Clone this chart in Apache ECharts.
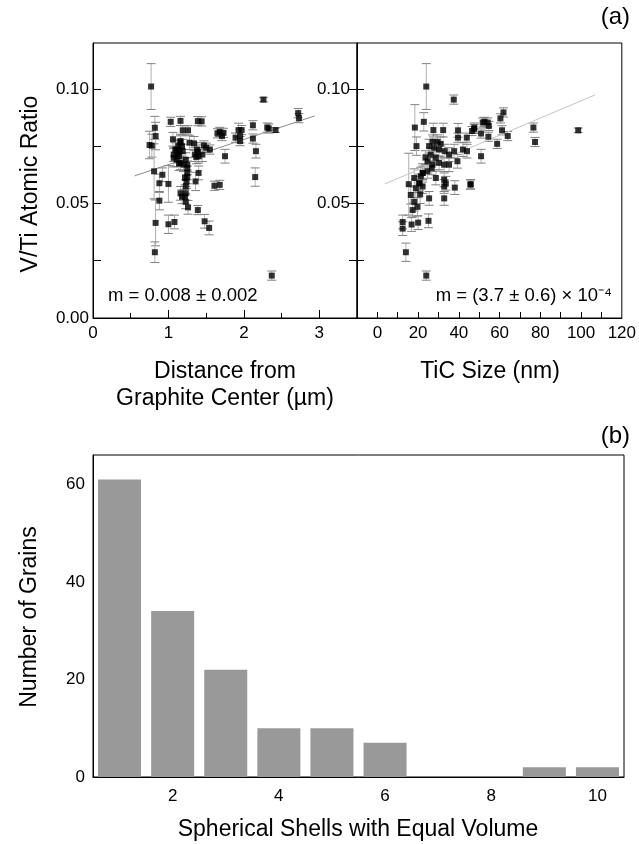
<!DOCTYPE html>
<html>
<head>
<meta charset="utf-8">
<script src="https://cdn.jsdelivr.net/npm/echarts@6/dist/echarts.min.js"></script>
<style>
  html, body { margin: 0; padding: 0; background: #fff; }
  #chart { width: 639px; height: 844px; }
</style>
</head>
<body>
<div id="chart"></div>
<script>
// (a) left: distance from graphite center (µm) vs V/Ti ratio
var distX = [0.77,0.75,0.78,0.82,0.83,0.81,0.88,0.92,0.88,1.00,0.83,0.82,1.00,1.08,1.03,1.16,1.19,1.26,1.39,1.44,
  1.06,1.16,1.28,1.34,1.11,1.07,1.12,1.14,1.20,1.25,1.18,1.15,1.35,1.37,1.39,1.47,1.50,1.55,1.40,1.25,
  1.24,1.23,1.23,1.36,1.16,1.18,1.22,1.23,1.26,1.39,1.48,1.54,1.61,1.68,1.65,1.71,1.68,1.73,1.75,1.89,
  1.95,1.93,1.97,1.95,2.12,2.12,2.16,2.15,2.26,2.31,2.33,2.42,2.72,2.73,2.37,1.38,1.40,1.45,1.19,1.23,
  1.11,1.16,1.25,1.25,1.22,1.09,1.07,1.14,1.13,1.16];
var distY = [0.101,0.0755,0.0752,0.083,0.0794,0.064,0.0588,0.0625,0.0512,0.0585,0.0415,0.0287,0.0409,0.0419,0.0856,0.086,0.0819,0.0819,0.0859,0.0858,
  0.078,0.0765,0.0765,0.0762,0.0735,0.0699,0.0713,0.0674,0.0669,0.0655,0.075,0.0728,0.0713,0.0703,0.0725,0.0753,0.0743,0.0735,0.0633,0.0616,
  0.0596,0.0574,0.0544,0.0596,0.0544,0.0529,0.0529,0.0507,0.0483,0.0471,0.0422,0.0393,0.0577,0.0581,0.0806,0.0794,0.0812,0.0808,0.0706,0.0787,
  0.0794,0.082,0.082,0.0772,0.0841,0.0783,0.0728,0.0615,0.0953,0.0831,0.0827,0.082,0.0894,0.0872,0.0185,0.0735,0.0706,0.0713,0.0728,0.0691,
  0.0691,0.0677,0.0669,0.0633,0.0611,0.0735,0.0713,0.0706,0.075,0.0772];
var distErr = [0.010,0.006,0.005,0.005,0.006,0.012,0.004,0.003,0.004,0.008,0.010,0.0045,0.004,0.003,0.002,0.002,0.002,0.002,0.002,0.002,
  0.003,0.003,0.003,0.003,0.004,0.004,0.003,0.003,0.003,0.003,0.003,0.003,0.003,0.003,0.003,0.002,0.002,0.002,0.003,0.003,
  0.003,0.003,0.003,0.004,0.003,0.003,0.003,0.003,0.003,0.002,0.003,0.003,0.002,0.002,0.002,0.002,0.002,0.002,0.003,0.002,
  0.003,0.003,0.002,0.002,0.002,0.002,0.003,0.004,0.001,0.002,0.002,0.001,0.002,0.002,0.002,0.003,0.003,0.003,0.003,0.003,
  0.003,0.003,0.003,0.003,0.003,0.003,0.003,0.003,0.003,0.003];
var distFit = [[0.55, 0.062], [2.94, 0.0882]];

// (a) right: TiC size (nm) vs V/Ti ratio
var sizeX = [24.0,37.5,22.8,18.4,19.2,27.5,32.3,39.6,43.9,39.6,47.5,27.1,29.5,31.1,25.4,27.9,30.3,33.1,35.2,37.7,
  39.3,26.2,28.7,24.6,27.1,30.3,32.8,35.2,26.7,24.6,22.2,21.3,18.1,20.5,18.9,22.2,28.7,32.8,33.6,32.8,
  38.0,45.8,16.4,21.0,25.4,32.8,18.1,19.7,17.3,12.4,12.4,16.8,20.0,25.1,14.0,24.0,15.4,52.5,54.2,54.7,
  51.7,47.6,46.5,50.9,54.5,61.2,58.8,64.0,76.6,77.4,98.6,50.9,61.9,60.4,42.0,44.0,45.7,23.6,22.3,20.7];
var sizeY = [0.101,0.0953,0.0856,0.0831,0.075,0.082,0.082,0.0819,0.0787,0.0787,0.0825,0.0769,0.0769,0.076,0.075,0.0743,0.0735,0.0728,0.0713,0.0728,
  0.0684,0.0713,0.0699,0.0684,0.0669,0.0677,0.0669,0.0669,0.0655,0.064,0.0633,0.0618,0.0611,0.0588,0.0566,0.0574,0.0611,0.0603,0.0588,0.0574,
  0.0569,0.0584,0.0537,0.054,0.0522,0.0522,0.0507,0.0485,0.0471,0.0419,0.039,0.0408,0.0416,0.0424,0.0287,0.0185,0.0584,0.0856,0.0853,0.0838,
  0.0853,0.0831,0.0816,0.0805,0.0791,0.0819,0.076,0.0794,0.0831,0.0768,0.0819,0.0706,0.0897,0.0871,0.0735,0.0728,0.0582,0.07,0.0633,0.0588];
var sizeErr = [0.010,0.002,0.004,0.010,0.004,0.003,0.003,0.003,0.002,0.002,0.002,0.003,0.003,0.003,0.003,0.003,0.003,0.003,0.003,0.003,
  0.003,0.003,0.003,0.003,0.003,0.003,0.003,0.003,0.003,0.003,0.004,0.004,0.004,0.004,0.004,0.003,0.003,0.003,0.003,0.003,
  0.003,0.002,0.004,0.004,0.003,0.003,0.004,0.004,0.003,0.003,0.003,0.003,0.003,0.003,0.004,0.002,0.0135,0.002,0.002,0.002,
  0.002,0.002,0.002,0.002,0.002,0.002,0.002,0.002,0.002,0.002,0.001,0.003,0.002,0.002,0.003,0.003,0.002,0.003,0.003,0.003];
var sizeFit = [[3.6, 0.0585], [107, 0.0974]];

// (b) grains per spherical shell
var shells = ['1','2','3','4','5','6','7','8','9','10'];
var grainCounts = [61, 34, 22, 10, 10, 7, 0, 0, 2, 2];

// tick values
var ratioTicks = [0, 0.025, 0.05, 0.075, 0.1];
var ratioLabels = [0, 0.05, 0.1];
var distTicks = [0, 1, 2, 3];
var distMinorTicks = [0.5, 1.5, 2.5];
var sizeTicks = [0, 10, 20, 30, 40, 50, 60, 70, 80, 90, 100, 110];
var sizeLabels = [0, 20, 40, 60, 80, 100, 120];
var countTicks = [0, 10, 20, 30, 40, 50, 60];
var countLabels = [0, 20, 40, 60];

var FONT = 'Liberation Sans, Arial, sans-serif';

function zip(xs, ys, es) {
  return xs.map(function (x, i) { return es ? [x, ys[i], es[i]] : [x, ys[i]]; });
}

// vertical error bar with caps
function errorBar(params, api) {
  var x = api.value(0), y = api.value(1), e = api.value(2);
  var hi = api.coord([x, y + e]);
  var lo = api.coord([x, y - e]);
  var c = 4.5;
  return {
    type: 'group',
    children: [
      {type: 'line', shape: {x1: hi[0], y1: hi[1], x2: lo[0], y2: lo[1]}, style: {stroke: '#b0b0b0', lineWidth: 1}},
      {type: 'line', shape: {x1: hi[0] - c, y1: hi[1], x2: hi[0] + c, y2: hi[1]}, style: {stroke: '#808080', lineWidth: 1}},
      {type: 'line', shape: {x1: lo[0] - c, y1: lo[1], x2: lo[0] + c, y2: lo[1]}, style: {stroke: '#808080', lineWidth: 1}}
    ]
  };
}

var axisLine = {show: true, onZero: false, lineStyle: {color: '#000', width: 1}};
var labelStyle = {color: '#000', fontSize: 17, fontFamily: FONT};

function ratioFmt(v) { return (+v).toFixed(2); }

function title(text, x, y, rot, extra) {
  return {type: 'text', x: x, y: y, rotation: rot || 0,
    style: Object.assign({text: text, fontSize: 23, fontFamily: FONT, fill: '#000', align: 'center', verticalAlign: 'middle'}, extra || {})};
}

var chart = echarts.init(document.getElementById('chart'), null, {renderer: 'canvas'});
chart.setOption({
  animation: false,
  backgroundColor: '#fff',
  grid: [
    {left: 93, top: 43, width: 264, height: 275, show: true, borderColor: '#000', borderWidth: 1},
    {left: 357, top: 43, width: 265, height: 275, show: true, borderColor: '#000', borderWidth: 1},
    {left: 93, top: 455, width: 531, height: 322, show: true, borderColor: '#000', borderWidth: 1}
  ],
  xAxis: [
    {gridIndex: 0, type: 'value', min: 0, max: 3.5, position: 'bottom', axisLine: axisLine,
      axisTick: {inside: true, length: 8, customValues: distTicks, lineStyle: {color: '#000'}},
      axisLabel: Object.assign({margin: 7, customValues: distTicks}, labelStyle),
      splitLine: {show: false}},
    {gridIndex: 0, type: 'value', min: 0, max: 3.5, position: 'bottom', axisLine: {show: false},
      axisTick: {inside: true, length: 5, customValues: distMinorTicks, lineStyle: {color: '#000'}},
      axisLabel: {show: false}, splitLine: {show: false}},
    {gridIndex: 1, type: 'value', min: -10, max: 120, position: 'bottom', axisLine: axisLine,
      axisTick: {inside: true, length: 6, customValues: sizeTicks, lineStyle: {color: '#000'}},
      axisLabel: Object.assign({margin: 7, customValues: sizeLabels}, labelStyle),
      splitLine: {show: false}},
    {gridIndex: 2, type: 'category', data: shells, position: 'bottom', axisLine: axisLine,
      axisTick: {inside: true, length: 7, alignWithLabel: true, interval: 0, lineStyle: {color: '#000'}},
      axisLabel: Object.assign({margin: 11, interval: function (i) { return i % 2 === 1; }}, labelStyle),
      splitLine: {show: false}}
  ],
  yAxis: [
    {gridIndex: 0, type: 'value', min: 0, max: 0.12, position: 'left', axisLine: axisLine,
      axisTick: {inside: true, length: 8, customValues: ratioTicks, lineStyle: {color: '#000'}},
      axisLabel: Object.assign({margin: 4, customValues: ratioLabels, formatter: ratioFmt}, labelStyle),
      splitLine: {show: false}},
    {gridIndex: 0, type: 'value', min: 0, max: 0.12, position: 'right', axisLine: axisLine,
      axisTick: {inside: true, length: 8, customValues: ratioTicks, lineStyle: {color: '#000'}},
      axisLabel: {show: false}, splitLine: {show: false}},
    {gridIndex: 1, type: 'value', min: 0, max: 0.12, position: 'left', axisLine: axisLine,
      axisTick: {inside: true, length: 7, customValues: ratioTicks, lineStyle: {color: '#000'}},
      axisLabel: Object.assign({margin: 7, customValues: [0.05, 0.1], formatter: ratioFmt}, labelStyle),
      splitLine: {show: false}},
    {gridIndex: 2, type: 'value', min: 0, max: 66, position: 'left', axisLine: axisLine,
      axisTick: {inside: false, length: 5, customValues: countTicks, lineStyle: {color: '#000'}},
      axisLabel: Object.assign({margin: 8, customValues: countLabels}, labelStyle),
      splitLine: {show: false}}
  ],
  series: [
    {type: 'custom', xAxisIndex: 0, yAxisIndex: 0, renderItem: errorBar, data: zip(distX, distY, distErr), z: 2},
    {type: 'line', xAxisIndex: 0, yAxisIndex: 0, data: distFit, symbol: 'none',
      lineStyle: {color: '#8c8c8c', width: 1}, z: 3},
    {type: 'scatter', xAxisIndex: 0, yAxisIndex: 0, data: zip(distX, distY), symbol: 'rect', symbolSize: 6,
      itemStyle: {color: '#000'}, z: 4},
    {type: 'custom', xAxisIndex: 2, yAxisIndex: 2, renderItem: errorBar, data: zip(sizeX, sizeY, sizeErr), z: 2},
    {type: 'line', xAxisIndex: 2, yAxisIndex: 2, data: sizeFit, symbol: 'none',
      lineStyle: {color: '#c4c4c4', width: 1}, z: 3},
    {type: 'scatter', xAxisIndex: 2, yAxisIndex: 2, data: zip(sizeX, sizeY), symbol: 'rect', symbolSize: 6,
      itemStyle: {color: '#000'}, z: 4},
    {type: 'bar', xAxisIndex: 3, yAxisIndex: 3, data: grainCounts, barCategoryGap: '19%',
      itemStyle: {color: '#999999'}}
  ],
  graphic: [
    {type: 'text', right: 9, top: 5, style: {text: '(a)', fontSize: 24, fontFamily: FONT, fill: '#000'}},
    {type: 'text', right: 9, top: 424, style: {text: '(b)', fontSize: 24, fontFamily: FONT, fill: '#000'}},
    title('V/Ti Atomic Ratio', 31, 184, Math.PI / 2),
    title('Number of Grains', 30, 617, Math.PI / 2),
    title('Distance from\nGraphite Center (µm)', 225, 385, 0, {lineHeight: 27}),
    title('TiC Size (nm)', 490, 372),
    title('Spherical Shells with Equal Volume', 358, 830),
    {type: 'text', x: 108, y: 296,
      style: {text: 'm = 0.008 ± 0.002', fontSize: 18.5, fontFamily: FONT, fill: '#000', align: 'left', verticalAlign: 'middle'}},
    {type: 'text', x: 612, y: 296,
      style: {text: 'm = (3.7 ± 0.6) × 10⁻⁴', fontSize: 18.5, fontFamily: FONT, fill: '#000', align: 'right', verticalAlign: 'middle'}}
  ]
});
</script>
</body>
</html>
